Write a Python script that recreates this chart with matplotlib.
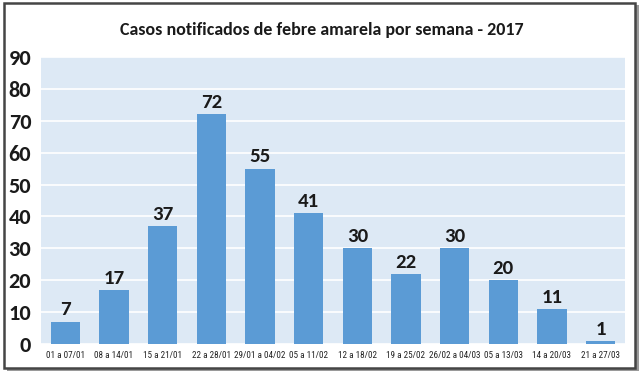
import matplotlib.pyplot as plt
from matplotlib.patches import Rectangle

# Weekly yellow fever notifications, 2017
semanas = ['01 a 07/01', '08 a 14/01', '15 a 21/01', '22 a 28/01', '29/01 a 04/02',
           '05 a 11/02', '12 a 18/02', '19 a 25/02', '26/02 a 04/03', '05 a 13/03',
           '14 a 20/03', '21 a 27/03']
casos = [7, 17, 37, 72, 55, 41, 30, 22, 30, 20, 11, 1]
y_ticks = list(range(0, 91, 10))

plt.rcParams['font.family'] = ['Carlito', 'DejaVu Sans']

fig = plt.figure(figsize=(6.44, 3.77), dpi=100)
ax = fig.add_axes([41 / 644, 1 - 344 / 377, (625 - 41) / 644, (344 - 57) / 377])

# frame with shadow around the whole chart
fig.patches.append(Rectangle((7 / 644, 1 - 371 / 377), 632 / 644, 366 / 377,
                             transform=fig.transFigure, facecolor='#9a9a9a',
                             edgecolor='none', zorder=-2))
fig.patches.append(Rectangle((4 / 644, 1 - 368 / 377), 631 / 644, 365 / 377,
                             transform=fig.transFigure, facecolor='white',
                             edgecolor='#454545', linewidth=1.8, zorder=-1))

ax.set_facecolor('#dde9f5')
x = range(len(casos))
ax.bar(x, casos, width=0.6, color='#5b9bd5', zorder=3)
for xi, v in zip(x, casos):
    ax.text(xi, v + 1, str(v), ha='center', va='bottom', fontsize=15,
            fontweight='bold', color='#1a1a1a')

ax.set_ylim(0, 90)
ax.set_xlim(-0.5, len(casos) - 0.5)
ax.set_yticks(y_ticks)
ax.set_yticklabels([str(t) for t in y_ticks], fontsize=16, fontweight='bold', color='#1a1a1a')
ax.set_xticks(list(x))
ax.set_xticklabels(semanas, fontsize=6.6, color='#222222',
                   family=['Roboto Condensed', 'Archivo Narrow', 'DejaVu Sans'])
ax.yaxis.grid(True, color='white', linewidth=1.2, zorder=0)
ax.set_axisbelow(True)
ax.tick_params(length=0, pad=5)
ax.tick_params(axis='y', pad=7)
for s in ax.spines.values():
    s.set_visible(False)

fig.text(0.5, 1 - 30 / 377, 'Casos notificados de febre amarela por semana - 2017',
         ha='center', va='center', fontsize=13, fontweight='bold', color='#1a1a1a')

fig.savefig('out.png', dpi=100)
